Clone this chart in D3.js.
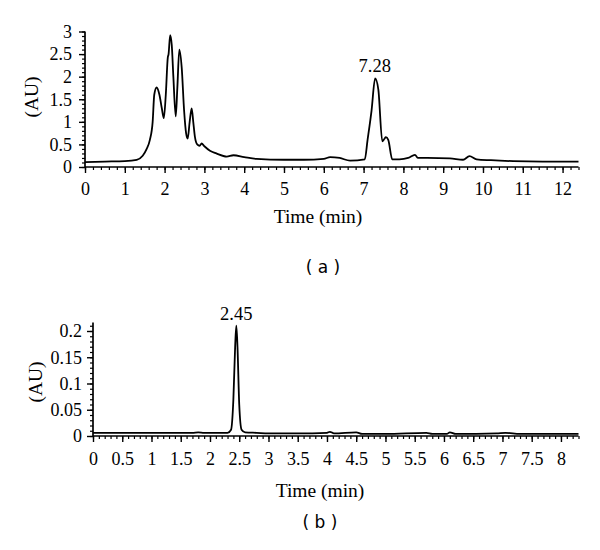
<!DOCTYPE html>
<html>
<head>
<meta charset="utf-8">
<script src="https://cdn.jsdelivr.net/npm/d3@7"></script>
<style>
  html, body { margin: 0; padding: 0; background: #fff; }
  svg { display: block; }
</style>
</head>
<body>
<svg id="chart" width="600" height="550"></svg>
<script>
// ---- Data ----
const timesA = [0, 0.5, 1.0, 1.3, 1.45, 1.55, 1.63, 1.7, 1.74, 1.8, 1.87, 1.93, 1.98, 2.03, 2.08, 2.1, 2.14, 2.18, 2.22, 2.28, 2.32, 2.37, 2.43, 2.49, 2.54, 2.58, 2.63, 2.68, 2.72, 2.76, 2.82, 2.88, 2.93, 3.0, 3.14, 3.3, 3.56, 3.73, 4.0, 4.31, 5.0, 5.5, 6.0, 6.16, 6.4, 6.66, 7.03, 7.1, 7.2, 7.29, 7.37, 7.47, 7.52, 7.56, 7.62, 7.72, 7.9, 8.12, 8.29, 8.37, 8.6, 9.17, 9.5, 9.66, 9.84, 10.2, 10.76, 11.5, 12.4];
const valuesA = [0.11, 0.12, 0.13, 0.16, 0.25, 0.4, 0.6, 1.0, 1.6, 1.76, 1.6, 1.3, 1.08, 1.6, 2.42, 2.5, 2.92, 2.7, 2.0, 1.12, 1.75, 2.6, 2.2, 1.25, 0.75, 0.63, 1.0, 1.3, 1.0, 0.68, 0.5, 0.47, 0.52, 0.46, 0.36, 0.3, 0.23, 0.26, 0.22, 0.18, 0.16, 0.16, 0.18, 0.22, 0.2, 0.14, 0.17, 0.6, 1.25, 1.96, 1.72, 0.57, 0.62, 0.66, 0.6, 0.17, 0.17, 0.2, 0.27, 0.2, 0.2, 0.19, 0.16, 0.24, 0.17, 0.15, 0.13, 0.12, 0.12];

const timesB = [0, 1.0, 1.7, 1.8, 1.9, 2.3, 2.36, 2.4, 2.43, 2.45, 2.47, 2.5, 2.54, 2.6, 2.8, 3.0, 3.5, 4.0, 4.05, 4.12, 4.5, 4.6, 5.0, 5.7, 5.8, 6.05, 6.1, 6.2, 6.9, 7.05, 7.3, 8.3];
const valuesB = [0.006, 0.006, 0.006, 0.007, 0.006, 0.006, 0.012, 0.07, 0.17, 0.21, 0.17, 0.06, 0.012, 0.007, 0.006, 0.005, 0.005, 0.006, 0.008, 0.005, 0.007, 0.004, 0.004, 0.006, 0.004, 0.004, 0.007, 0.004, 0.005, 0.006, 0.004, 0.004];

const xTicksA = [0, 1, 2, 3, 4, 5, 6, 7, 8, 9, 10, 11, 12];
const yTicksA = [0, 0.5, 1, 1.5, 2, 2.5, 3];
const xTicksB = [0, 0.5, 1, 1.5, 2, 2.5, 3, 3.5, 4, 4.5, 5, 5.5, 6, 6.5, 7, 7.5, 8];
const yTicksB = [0, 0.05, 0.1, 0.15, 0.2];

const peakLabelA = { t: 7.28, v: 1.96, text: "7.28" };
const peakLabelB = { t: 2.45, v: 0.21, text: "2.45" };
const yLabel = "(AU)";
const xLabel = "Time (min)";
const panelLabels = ["( a )", "( b )"];

// ---- Drawing ----
const SERIF = "'Liberation Serif', 'DejaVu Serif', serif";
const SANS = "'DejaVu Sans', Verdana, sans-serif";
const svg = d3.select("#chart");

function range(a, b, step) {
  const out = [];
  const n = Math.round((b - a) / step);
  for (let i = 0; i <= n; i++) out.push(+(a + i * step).toFixed(6));
  return out;
}

function styleText(sel, size) {
  sel.style("font-family", SERIF).style("font-size", size + "px").attr("fill", "#000");
}

function panel(cfg) {
  const g = svg.append("g");
  const x = d3.scaleLinear().domain(cfg.xDomain).range(cfg.xRange);
  const y = d3.scaleLinear().domain(cfg.yDomain).range(cfg.yRange);
  const y0 = y(0);
  const x0 = cfg.xRange[0];

  // minor ticks x
  g.append("g").attr("transform", `translate(0,${y0})`)
    .call(d3.axisBottom(x).tickValues(cfg.xMinor).tickSize(3).tickFormat(""))
    .call(s => s.select(".domain").remove())
    .call(s => s.selectAll("line").attr("stroke", "#000").attr("stroke-width", 1.2));
  // major ticks x
  g.append("g").attr("transform", `translate(0,${y0})`)
    .call(d3.axisBottom(x).tickValues(cfg.xTicks).tickSize(6).tickPadding(cfg.xPad).tickSizeOuter(0)
      .tickFormat(d => String(d)))
    .call(s => s.select(".domain").attr("stroke", "#000").attr("stroke-width", 1.7)
      .attr("d", `M${cfg.xRange[0]},0H${cfg.xRange[1]}`))
    .call(s => s.selectAll("line").attr("stroke", "#000").attr("stroke-width", 1.4))
    .call(s => styleText(s.selectAll("text"), 18));

  // minor ticks y
  g.append("g").attr("transform", `translate(${x0},0)`)
    .call(d3.axisLeft(y).tickValues(cfg.yMinor).tickSize(3).tickFormat(""))
    .call(s => s.select(".domain").remove())
    .call(s => s.selectAll("line").attr("stroke", "#000").attr("stroke-width", 1.2));
  // major ticks y
  g.append("g").attr("transform", `translate(${x0},0)`)
    .call(d3.axisLeft(y).tickValues(cfg.yTicks).tickSize(6).tickPadding(cfg.yPad).tickSizeOuter(0)
      .tickFormat(d => String(d)))
    .call(s => s.select(".domain").attr("stroke", "#000").attr("stroke-width", 1.7)
      .attr("d", `M0,${cfg.yRange[0]}V${cfg.yRange[1]}`))
    .call(s => s.selectAll("line").attr("stroke", "#000").attr("stroke-width", 1.4))
    .call(s => styleText(s.selectAll("text"), 18));

  // trace
  const data = cfg.times.map((t, i) => ({ t, v: cfg.values[i] }));
  const line = d3.line().x(d => x(d.t)).y(d => y(d.v)).curve(d3.curveMonotoneX);
  g.append("path").datum(data).attr("d", line)
    .attr("fill", "none").attr("stroke", "#000").attr("stroke-width", 1.8)
    .attr("stroke-linejoin", "round");

  // peak label
  g.append("text").call(styleText, 18.5)
    .attr("x", x(cfg.peak.t)).attr("y", y(cfg.peak.v) - 6)
    .attr("text-anchor", "middle").text(cfg.peak.text);

  // axis titles
  g.append("text").call(styleText, 19.5)
    .attr("transform", `translate(${cfg.yTitleX},${cfg.yTitleY}) rotate(-90)`)
    .attr("text-anchor", "middle").attr("dy", "0.35em").text(yLabel);
  g.append("text").call(styleText, 19.5)
    .attr("x", cfg.xTitleX).attr("y", cfg.xTitleY)
    .attr("text-anchor", "middle").attr("dy", "0.35em").text(xLabel);

  // panel label
  g.append("text").style("font-family", SANS).style("font-size", "17px")
    .attr("x", cfg.panelX).attr("y", cfg.panelY)
    .attr("text-anchor", "middle").attr("dy", "0.35em").text(cfg.panelLabel);
}

panel({
  times: timesA, values: valuesA,
  xDomain: [0, 12.4], xRange: [85, 578.5],
  yDomain: [0, 3], yRange: [167, 31.5],
  xTicks: xTicksA, yTicks: yTicksA, xPad: 9, yPad: 7,
  xMinor: range(0, 12.4, 0.2), yMinor: range(0, 3, 0.1),
  peak: peakLabelA,
  yTitleX: 31, yTitleY: 97,
  xTitleX: 318, xTitleY: 216,
  panelX: 323, panelY: 267, panelLabel: panelLabels[0]
});

panel({
  times: timesB, values: valuesB,
  xDomain: [0, 8.3], xRange: [93, 578.5],
  yDomain: [0, 0.216], yRange: [436, 322.6],
  xTicks: xTicksB, yTicks: yTicksB, xPad: 10, yPad: 5,
  xMinor: range(0, 8.3, 0.1), yMinor: range(0, 0.21, 0.01),
  peak: peakLabelB,
  yTitleX: 35, yTitleY: 382,
  xTitleX: 320, xTitleY: 490,
  panelX: 320, panelY: 522, panelLabel: panelLabels[1]
});
</script>
</body>
</html>
